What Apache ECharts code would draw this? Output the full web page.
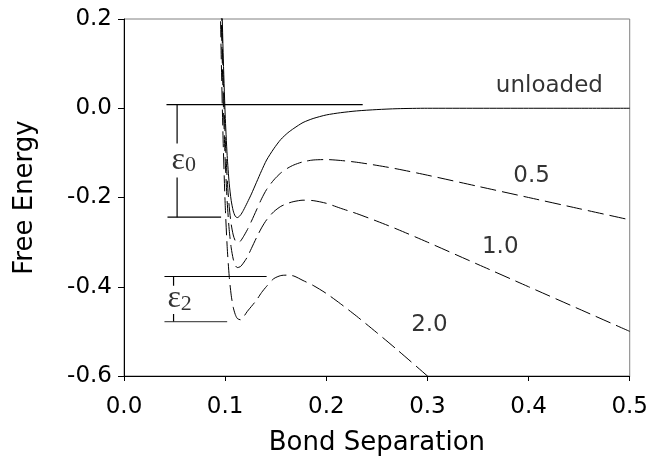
<!DOCTYPE html>
<html>
<head>
<meta charset="utf-8">
<script src="https://cdn.jsdelivr.net/npm/echarts@6/dist/echarts.min.js"></script>
<style>
html,body{margin:0;padding:0;background:#fff;}
#chart{width:651px;height:468px;}
</style>
</head>
<body>
<div id="chart"></div>
<script>
// Bond separation sample points
var xValues = [0.090,0.092,0.094,0.096,0.098,0.100,0.102,0.104,0.106,0.108,0.110,0.112,0.115,0.118,0.122,0.126,0.131,0.136,0.141,0.148,0.155,0.162,0.168,0.177,0.187,0.200,0.214,0.230,0.250,0.270,0.300,0.350,0.400,0.450,0.500];
// Free energy, unloaded
var unloaded = [1.558,1.00,0.605,0.322,0.125,-0.013,-0.106,-0.168,-0.207,-0.230,-0.242,-0.245,-0.240,-0.229,-0.211,-0.192,-0.166,-0.140,-0.116,-0.091,-0.070,-0.055,-0.045,-0.032,-0.023,-0.015,-0.010,-0.006,-0.003,-0.001,0,0,0,0,0];
// Free energy, load 0.5
var load05 = [1.513,0.954,0.558,0.274,0.076,-0.063,-0.157,-0.220,-0.260,-0.284,-0.297,-0.301,-0.298,-0.288,-0.272,-0.253,-0.228,-0.203,-0.182,-0.161,-0.145,-0.134,-0.127,-0.120,-0.116,-0.115,-0.117,-0.121,-0.128,-0.136,-0.150,-0.175,-0.200,-0.225,-0.250];
// Free energy, load 1.0
var load10 = [1.468,0.908,0.511,0.226,0.027,-0.113,-0.208,-0.272,-0.313,-0.338,-0.352,-0.357,-0.355,-0.347,-0.333,-0.314,-0.290,-0.268,-0.250,-0.232,-0.220,-0.213,-0.209,-0.206,-0.207,-0.213,-0.224,-0.236,-0.253,-0.271,-0.300,-0.350,-0.400,-0.450,-0.500];
// Free energy, load 2.0
var load20 = [1.378,0.816,0.417,0.130,-0.071,-0.213,-0.310,-0.376,-0.419,-0.446,-0.462,-0.471,-0.474,-0.468,-0.455,-0.444,-0.430,-0.413,-0.399,-0.382,-0.375,-0.374,-0.376,-0.386,-0.397,-0.415,-0.438,-0.466,-0.503,-0.541,-0.600,-0.700,-0.800,-0.900,-1.000];

// Well-depth annotation segments (data coordinates)
var eps0Top = [[0.042,0.008],[0.236,0.008]];
var eps0Bottom = [[0.043,-0.244],[0.096,-0.244]];
var eps0VertUpper = [[0.0525,0.008],[0.0525,-0.079]];
var eps0VertLower = [[0.0525,-0.155],[0.0525,-0.244]];
var eps2Top = [[0.040,-0.377],[0.141,-0.377]];
var eps2Bottom = [[0.040,-0.478],[0.102,-0.478]];
var eps2VertUpper = [[0.049,-0.377],[0.049,-0.398]];
var eps2VertLower = [[0.049,-0.461],[0.049,-0.478]];

// Text annotations
var curveLabels = ['unloaded','0.5','1.0','2.0'];
var curveLabelAnchors = [[0.4206,0.049],[0.403,-0.151],[0.372,-0.312],[0.302,-0.485]];
var epsLabels = ['0','2'];
var epsLabelAnchors = [[0.059,-0.115],[0.055,-0.425]];

var xTicks = {min:0, max:0.5, interval:0.1};
var yTicks = {min:-0.6, max:0.2, interval:0.2};

function pairs(xs, ys){ return xs.map(function(x,i){ return [x, ys[i]]; }); }

var chart = echarts.init(document.getElementById('chart'), null, {renderer:'canvas'});

var FONT = 'DejaVu Sans, Verdana, sans-serif';
var solid = {color:'#000', width:1, type:'solid'};
var dashed = {color:'#000', width:1, type:[16,6]};

function seg(data, color){
  return {type:'line', data:data, showSymbol:false, symbol:'none', silent:true,
    lineStyle:{color:color||'#000', width:1.2}, animation:false, z:3};
}

var series = [
  {type:'line', name:'unloaded', data:pairs(xValues, unloaded), showSymbol:false, symbol:'none', smooth:0.25, lineStyle:solid, clip:true, animation:false},
  {type:'line', name:'0.5', data:pairs(xValues, load05), showSymbol:false, symbol:'none', smooth:0.25, lineStyle:dashed, clip:true, animation:false},
  {type:'line', name:'1.0', data:pairs(xValues, load10), showSymbol:false, symbol:'none', smooth:0.25, lineStyle:dashed, clip:true, animation:false},
  {type:'line', name:'2.0', data:pairs(xValues, load20), showSymbol:false, symbol:'none', smooth:0.25, lineStyle:dashed, clip:true, animation:false},
  seg(eps0Top), seg(eps0Bottom), seg(eps0VertUpper), seg(eps0VertLower),
  seg(eps2Top), seg(eps2Bottom, '#555'), seg(eps2VertUpper), seg(eps2VertLower)
];

series.push({
  type:'scatter', symbolSize:0, silent:true, animation:false,
  data: curveLabelAnchors.map(function(p,i){ return {value:p, name:curveLabels[i]}; }),
  label:{show:true, position:'inside', formatter:function(p){return p.name;},
    color:'#000', fontFamily:FONT, fontSize:23}
});
series.push({
  type:'scatter', symbolSize:0, silent:true, animation:false,
  data: epsLabelAnchors.map(function(p,i){ return {value:p, name:epsLabels[i]}; }),
  label:{show:true, position:'inside',
    formatter:function(p){ return '{e|\u03B5}{s|' + p.name + '}'; },
    rich:{
      e:{fontFamily:'Liberation Serif, Times New Roman, serif', fontSize:32, color:'#000', verticalAlign:'bottom'},
      s:{fontFamily:'Liberation Serif, Times New Roman, serif', fontSize:22, color:'#000', padding:[12,0,0,0], verticalAlign:'bottom'}
    }}
});

chart.setOption({
  animation:false,
  backgroundColor:'#fff',
  grid:{left:124, right:18, top:19, bottom:92, show:true, borderColor:'#808080', borderWidth:1, backgroundColor:'transparent'},
  xAxis:{
    type:'value', min:xTicks.min, max:xTicks.max, interval:xTicks.interval,
    name:'Bond Separation', nameLocation:'middle', nameGap:54,
    nameTextStyle:{fontFamily:FONT, fontSize:26, color:'#000'},
    axisLine:{show:true, onZero:false, lineStyle:{color:'#000', width:1}},
    axisTick:{show:true, inside:false, length:5, lineStyle:{color:'#000'}},
    axisLabel:{formatter:function(v){return v.toFixed(1);}, fontFamily:FONT, fontSize:23, color:'#000', margin:20},
    splitLine:{show:false}
  },
  yAxis:{
    type:'value', min:yTicks.min, max:yTicks.max, interval:yTicks.interval,
    name:'Free Energy', nameLocation:'middle', nameGap:86, nameRotate:90,
    nameTextStyle:{fontFamily:FONT, fontSize:26, color:'#000'},
    axisLine:{show:true, onZero:false, lineStyle:{color:'#000', width:1}},
    axisTick:{show:true, inside:false, length:6, lineStyle:{color:'#000'}},
    axisLabel:{formatter:function(v){return v.toFixed(1);}, fontFamily:FONT, fontSize:23, color:'#000', margin:12},
    splitLine:{show:false}
  },
  series:series
});
</script>
</body>
</html>
